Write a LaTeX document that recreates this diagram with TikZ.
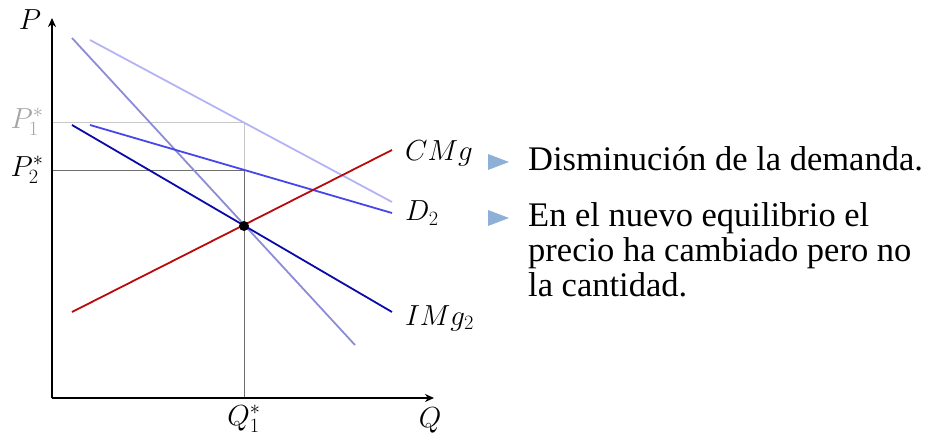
\RequirePackage{fix-cm}
\documentclass[tikz,border=0pt]{standalone}
\usepackage{fontspec}
\setmainfont{Liberation Serif}
\usetikzlibrary{arrows.meta}
\begin{document}
\begin{tikzpicture}[x=1pt,y=-1pt,
  axis/.style={line width=2pt,-{Stealth[length=9pt,width=8pt]}},
  curve/.style={line width=1.8pt},
  guide/.style={line width=0.9pt},
  mlabel/.style={font=\fontsize{29}{34}\selectfont,inner sep=0pt},
  bul/.style={fill=bulcol,draw=none},
  btext/.style={anchor=base west,inner sep=0pt,font=\fontsize{34.5}{35}\selectfont}]
\definecolor{cmgred}{RGB}{185,10,10}
\definecolor{img2}{RGB}{10,10,170}
\definecolor{d2}{RGB}{70,70,235}
\definecolor{d1}{RGB}{180,180,245}
\definecolor{img1}{RGB}{140,140,215}
\definecolor{lgray}{RGB}{200,200,200}
\definecolor{dgray}{RGB}{110,110,110}
\definecolor{p1gray}{RGB}{165,165,165}
\definecolor{bulcol}{RGB}{142,176,214}
\useasboundingbox (0,0) rectangle (940,438);
% coordinates
\coordinate (O) at (52,398);
\coordinate (Ytop) at (52,18);
\coordinate (Xend) at (434,398);
\coordinate (E) at (244,226);
\coordinate (Q1b) at (244,398);
\coordinate (P1l) at (52,122);
\coordinate (P1r) at (244,122);
\coordinate (P2l) at (52,170);
\coordinate (P2r) at (244,170);
% guide lines
\draw[guide,lgray] (P1l) -- (P1r) -- (Q1b);
\draw[guide,dgray] (P2l) -- (P2r) -- (Q1b);
% curves
\coordinate (d1a) at (90,40);   \coordinate (d1b) at (392,202);
\coordinate (i1a) at (72,38);   \coordinate (i1b) at (355,345);
\coordinate (d2a) at (90,125);  \coordinate (d2b) at (392,213);
\coordinate (i2a) at (72,125);  \coordinate (i2b) at (392,312);
\coordinate (ca) at (72,312);   \coordinate (cb) at (392,150);
\draw[curve,d1] (d1a) -- (d1b);
\draw[curve,img1] (i1a) -- (i1b);
\draw[curve,d2] (d2a) -- (d2b);
\draw[curve,img2] (i2a) -- (i2b);
\draw[curve,cmgred] (ca) -- (cb);
\fill (E) circle (5pt);
% axes
\draw[axis] (O) -- (Ytop);
\draw[axis] (O) -- (Xend);
% labels
\node[mlabel] (lP) at (30,20) {$P$};
\node[mlabel] (lQ) at (430,420) {$Q$};
\node[mlabel] (lQ1) at (244,419) {$Q_1^*$};
\node[mlabel,text=p1gray] (lP1) at (27,122) {$P_1^*$};
\node[mlabel] (lP2) at (27,170) {$P_2^*$};
\node[mlabel,anchor=west] (lC) at (405,153) {$CMg$};
\node[mlabel,anchor=west] (lD2) at (405,213) {$D_2$};
\node[mlabel,anchor=west] (lI2) at (405,318) {$IMg_2$};
% bullets
\fill[bul] (488,154) -- (509,162) -- (488,170) -- cycle;
\fill[bul] (488,210) -- (509,218) -- (488,226) -- cycle;
\node[btext] (t1) at (528,171) {Disminución de la demanda.};
\node[btext] (t2a) at (528,227) {En el nuevo equilibrio el};
\node[btext] (t2b) at (528,262) {precio ha cambiado pero no};
\node[btext] (t2c) at (528,297) {la cantidad.};
\end{tikzpicture}
\end{document}
